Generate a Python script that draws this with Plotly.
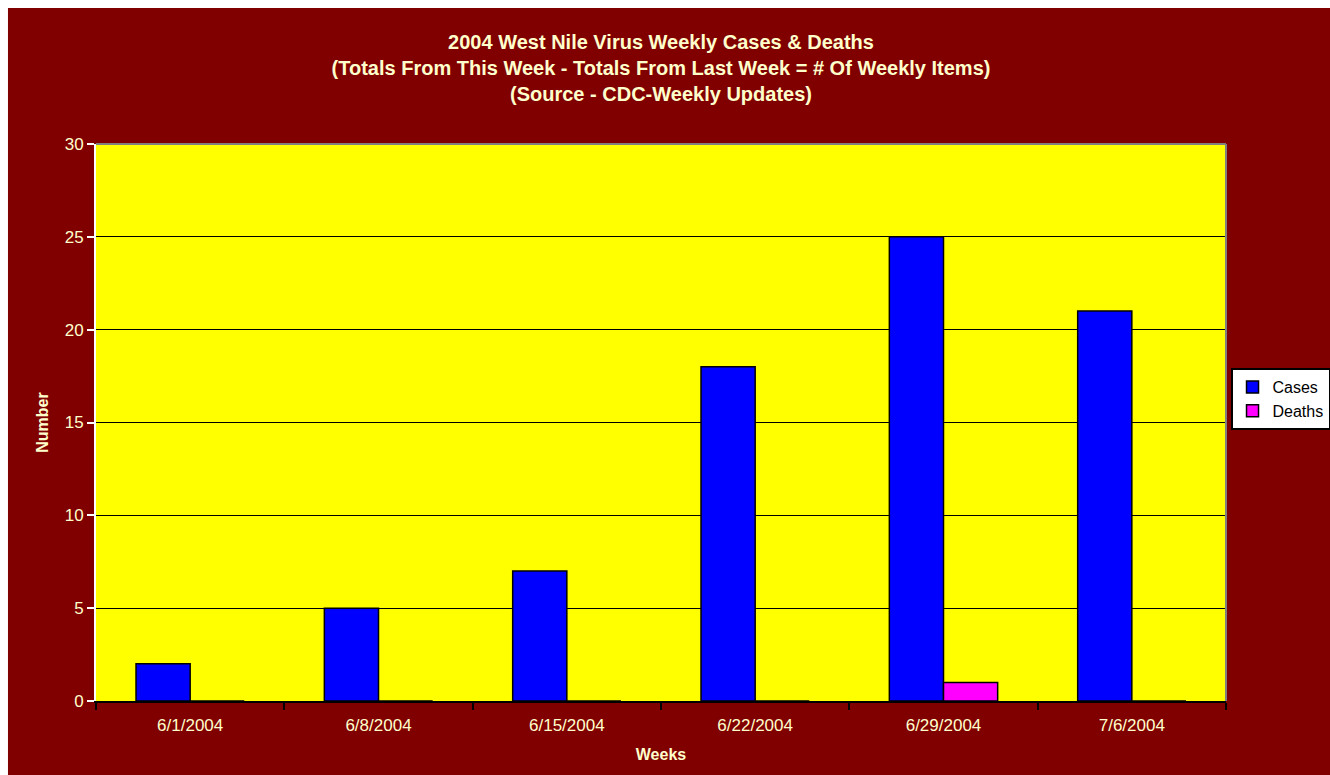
import plotly.graph_objects as go

weeks = ["6/1/2004", "6/8/2004", "6/15/2004", "6/22/2004", "6/29/2004", "7/6/2004"]
cases = [2, 5, 7, 18, 25, 21]
deaths = [0, 0, 0, 0, 1, 0]

cream = "#FFFFCC"
FONT = "Arial, Liberation Sans, sans-serif"
fig = go.Figure()
fig.add_trace(go.Bar(x=weeks, y=cases, name="Cases",
                     marker=dict(color="#0000FF", line=dict(color="black", width=1.5))))
fig.add_trace(go.Bar(x=weeks, y=deaths, name="Deaths",
                     marker=dict(color="#FF00FF", line=dict(color="black", width=1.5))))

fig.update_layout(
    width=1330, height=775, autosize=False,
    paper_bgcolor="white", plot_bgcolor="rgba(0,0,0,0)",
    margin=dict(l=96, r=104, t=144, b=74, autoexpand=False),
    barmode="group", bargap=0.425, bargroupgap=0,
    font=dict(family=FONT, color=cream, size=17),
    title=dict(
        text="<b>2004 West Nile Virus Weekly Cases & Deaths<br>(Totals From This Week - Totals From Last Week = # Of Weekly Items)<br>(Source - CDC-Weekly Updates)</b>",
        x=0.5, xanchor="center", xref="paper", y=0.937, yanchor="top",
        font=dict(size=20, color=cream, family=FONT)),
    legend=dict(x=1.004, y=0.542, xanchor="left", yanchor="middle",
                bgcolor="white", bordercolor="black", borderwidth=2,
                font=dict(size=16, color="black", family=FONT),
                itemwidth=30, tracegroupgap=0),
    xaxis=dict(title=dict(text="<b>Weeks</b>", font=dict(size=16, color=cream), standoff=14),
               showline=True, linecolor="black", linewidth=2,
               ticks="outside", tickcolor="black", ticklen=7, tickwidth=2,
               tickson="boundaries", showgrid=False, ticklabelstandoff=8,
               tickfont=dict(size=17, color=cream)),
    yaxis=dict(title=dict(text="<b>Number</b>", font=dict(size=16, color=cream), standoff=12),
               range=[0, 30], dtick=5, showline=True, linecolor="white", linewidth=2,
               ticks="outside", tickcolor="white", ticklen=7, tickwidth=2,
               gridcolor="black", gridwidth=1, zeroline=False,
               tickfont=dict(size=17, color=cream)),
    shapes=[
        dict(type="rect", xref="paper", yref="paper", x0=-0.0779, x1=1.2, y0=-0.5, y1=1.2442,
             fillcolor="#800000", line=dict(width=0), layer="below"),
        dict(type="rect", xref="paper", yref="paper", x0=0, x1=1, y0=0, y1=1,
             fillcolor="#FFFF00", line=dict(width=0), layer="below"),
        dict(type="line", xref="paper", yref="paper", x0=0, x1=1, y0=1, y1=1,
             line=dict(color="#808080", width=2)),
        dict(type="line", xref="paper", yref="paper", x0=1, x1=1, y0=0, y1=1,
             line=dict(color="#808080", width=2)),
    ],
)

fig.write_html(
    "out.html",
    config={"displayModeBar": False},
    post_script="document.body.style.margin='0';document.body.style.overflow='hidden';document.documentElement.style.overflow='hidden';",
)
